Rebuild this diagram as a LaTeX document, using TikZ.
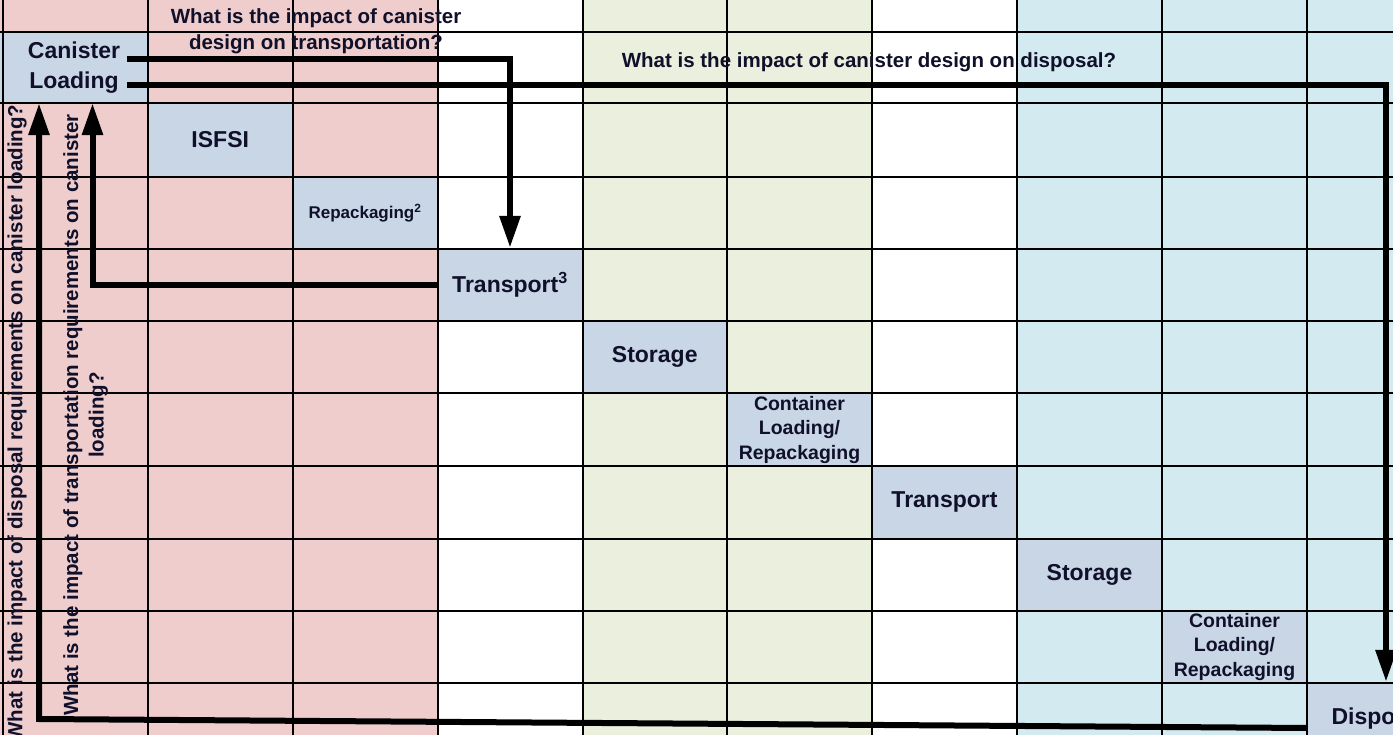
\documentclass[tikz,border=0pt]{standalone}
\usepackage{fontspec}
\setmainfont{Liberation Sans}
\usetikzlibrary{arrows.meta}
\definecolor{pinkc}{HTML}{EECDCC}
\definecolor{greenc}{HTML}{EBF0DE}
\definecolor{aquac}{HTML}{D3EAF0}
\definecolor{boxc}{HTML}{C9D6E6}
\definecolor{ink}{HTML}{10102A}
\newcommand\fBig{\fontsize{23}{27}\selectfont\bfseries}
\newcommand\fReg{\fontsize{23}{29.5}\selectfont\bfseries}
\newcommand\fMid{\fontsize{19.5}{24.5}\selectfont\bfseries}
\newcommand\fSm{\fontsize{17}{20}\selectfont\bfseries}
\newcommand\fQ{\fontsize{20.5}{25.5}\selectfont\bfseries}
\begin{document}
\begin{tikzpicture}[x=1pt,y=-1pt,
  txt/.style={text=ink, inner sep=0pt, align=center},
  cellbox/.style={txt, fill=boxc, minimum width=145pt, minimum height=74pt},
  gridline/.style={line width=2pt, black},
  arr/.style={line width=6pt, line join=miter, -{Triangle[length=32pt,width=20pt]}}]
\useasboundingbox (0,0) rectangle (1393,735);
\clip (0,0) rectangle (1393,735);
% column backgrounds
\fill[pinkc] (0,0) rectangle (437.5,735);
\fill[white] (437.5,0) rectangle (582.5,735);
\fill[greenc] (582.5,0) rectangle (872,735);
\fill[white] (872,0) rectangle (1017,735);
\fill[aquac] (1017,0) rectangle (1393,735);
% process boxes
\node[txt, fill=boxc, minimum width=148pt, minimum height=71pt, font=\fReg] (canload) at (74,67.5) {Canister\\Loading};
\node[cellbox, font=\fBig] (isfsi) at (220.25,140) {ISFSI};
\node[cellbox, font=\fSm] (repack) at (365,213) {Repackaging\textsuperscript{2}};
\node[cellbox, font=\fReg] (transp3) at (510,285) {Transport\textsuperscript{3}};
\node[cellbox, font=\fBig] (stor1) at (654.75,357.25) {Storage};
\node[cellbox, font=\fMid] (cont1) at (799.5,429.75) {Container\\Loading/\\Repackaging};
\node[cellbox, font=\fBig] (transp) at (944.5,502.25) {Transport};
\node[cellbox, font=\fBig] (stor2) at (1089.5,574.5) {Storage};
\node[cellbox, font=\fMid] (cont2) at (1234.5,646.75) {Container\\Loading/\\Repackaging};
\node[cellbox, font=\fBig] (disp) at (1379.5,719) {Disposal};
% grid
\foreach \xx in {2.5,148,292.5,437.5,582.5,727,872,1017,1162,1307}
  \draw[gridline] (\xx,0) -- (\xx,735);
\foreach \yy in {32,103,177,249,321,393.5,466,538.5,610.5,683}
  \draw[gridline] (0,\yy) -- (1393,\yy);
% questions
\node[txt, font=\fQ] (q1) at (316,31) {What is the impact of canister\\design on transportation?};
\node[txt, font=\fQ] (q2) at (869,62) {What is the impact of canister design on disposal?};
\node[txt, font=\fQ, rotate=90] (q3) at (17,423) {What is the impact of disposal requirements on canister loading?};
\node[txt, font=\fQ, rotate=90] (q4) at (85.5,415) {What is the impact of transportation requirements on canister\\loading?};
% connectors
\coordinate (a1s) at (127,59.5);
\coordinate (a2s) at (127,85);
\coordinate (a4s) at (1307,728);
\coordinate (a4c) at (39,719);
\draw[arr] (a1s) -| (transp3.north);
\draw[arr] (a2s) -| ([xshift=6.5pt]disp.north);
\draw[arr] (transp3.west) -| ([xshift=18.5pt]canload.south);
\draw[arr] (a4s) -- (a4c) -- ([xshift=-35pt]canload.south);
\end{tikzpicture}
\end{document}
